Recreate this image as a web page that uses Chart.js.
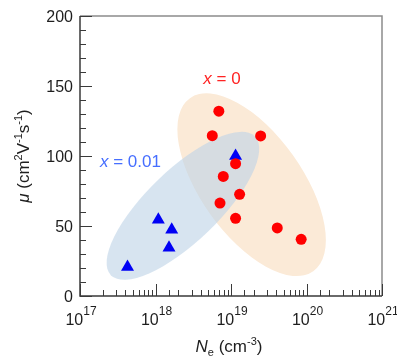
<!DOCTYPE html>
<html>
<head>
<meta charset="utf-8">
<script src="https://cdn.jsdelivr.net/npm/chart.js@4/dist/chart.umd.min.js"></script>
<style>
html,body{margin:0;padding:0;background:#fff;}
#wrap{width:397px;height:358px;position:relative;}
</style>
</head>
<body>
<div id="wrap"><canvas id="c" width="397" height="358"></canvas></div>
<script>
// ---- data ----
const xMin = 1e17, xMax = 1e21;
const yMin = 0, yMax = 200;
const yMajorTicks = [0, 50, 100, 150, 200];
const xMajorExponents = [17, 18, 19, 20, 21];

// x = 0 (red circles): Ne (cm^-3), mu (cm2/Vs)
const ne_x0 = [6.9e18, 5.65e18, 2.47e19, 1.15e19, 7.9e18, 1.3e19, 7.15e18, 1.15e19, 4.1e19, 8.5e19];
const mu_x0 = [132, 114.5, 114.3, 94.5, 85.4, 72.6, 66.4, 55.5, 48.6, 40.5];

// x = 0.01 (blue triangles)
const ne_x001 = [1.15e19, 1.09e18, 1.64e18, 1.51e18, 4.26e17];
const mu_x001 = [100, 54.5, 47.3, 34.5, 20.8];

// ellipses (major-axis end points in data units, minor/major ratio)
const ellipseX0_tips = [[2.86e18, 141.3], [1.23e20, 17.7]];
const ellipseX0_ratio = 0.478;
const ellipseX001_tips = [[2.56e17, 14.9], [2.08e19, 113.9]];
const ellipseX001_ratio = 0.36;

// series labels (data position of text start / baseline)
const labelX0 = ["x", " = 0", 4.3e18, 151.4];
const labelX001 = ["x", " = 0.01", 1.84e17, 92.4];

const FONT = '"Liberation Sans", Arial, sans-serif';
const TEXT = '#1e1e1e';

function toPts(xs, ys){ return xs.map((x,i)=>({x:x, y:ys[i]})); }

function drawRuns(ctx, runs, x, y, align){
  // runs: [{t, f, dy}]
  let w = 0;
  runs.forEach(r=>{ ctx.font = r.f; w += ctx.measureText(r.t).width; });
  let cx = align === 'center' ? x - w/2 : x;
  ctx.textAlign = 'left';
  ctx.textBaseline = 'alphabetic';
  runs.forEach(r=>{
    ctx.font = r.f;
    ctx.fillText(r.t, cx, y + (r.dy||0));
    cx += ctx.measureText(r.t).width;
  });
}

const decor = {
  id: 'decor',
  beforeDatasetsDraw(chart){
    const ctx = chart.ctx, xs = chart.scales.x, ys = chart.scales.y;
    function ell(tips, ratio, fill){
      const x1 = xs.getPixelForValue(tips[0][0]), y1 = ys.getPixelForValue(tips[0][1]);
      const x2 = xs.getPixelForValue(tips[1][0]), y2 = ys.getPixelForValue(tips[1][1]);
      const cx = (x1+x2)/2, cy = (y1+y2)/2;
      const a = Math.hypot(x2-x1, y2-y1)/2;
      const ang = Math.atan2(y2-y1, x2-x1);
      ctx.save();
      ctx.fillStyle = fill;
      ctx.beginPath();
      ctx.ellipse(cx, cy, a, a*ratio, ang, 0, Math.PI*2);
      ctx.fill();
      ctx.restore();
    }
    ell(ellipseX0_tips, ellipseX0_ratio, 'rgb(251,234,215)');
    ell(ellipseX001_tips, ellipseX001_ratio, 'rgba(190,211,231,0.62)');
  },
  afterDatasetsDraw(chart){
    const ctx = chart.ctx, xs = chart.scales.x, ys = chart.scales.y;
    const a = chart.chartArea;
    ctx.save();
    // frame top/right
    ctx.strokeStyle = '#8c8c8c';
    ctx.lineWidth = 1.5;
    ctx.beginPath();
    ctx.moveTo(a.left, a.top); ctx.lineTo(a.right, a.top); ctx.lineTo(a.right, a.bottom);
    ctx.stroke();
    // axes left/bottom
    ctx.strokeStyle = '#3a3a3a';
    ctx.beginPath();
    ctx.moveTo(a.left, a.top); ctx.lineTo(a.left, a.bottom); ctx.lineTo(a.right, a.bottom);
    ctx.stroke();
    ctx.lineWidth = 1;
    // y ticks
    ys.ticks.forEach(t=>{
      const py = Math.round(ys.getPixelForValue(t.value)) + 0.5;
      const major = yMajorTicks.includes(t.value);
      ctx.beginPath();
      ctx.moveTo(a.left, py); ctx.lineTo(a.left + (major ? 12 : 6), py);
      ctx.stroke();
    });
    // x ticks
    xs.ticks.forEach(t=>{
      const px = Math.round(xs.getPixelForValue(t.value)) + 0.5;
      const e = Math.log10(t.value);
      const major = Math.abs(e - Math.round(e)) < 1e-9;
      ctx.beginPath();
      ctx.moveTo(px, a.bottom); ctx.lineTo(px, a.bottom - (major ? 12 : 6));
      ctx.stroke();
    });
    // y labels
    ctx.fillStyle = TEXT;
    ctx.font = '16px ' + FONT;
    ctx.textAlign = 'right';
    ctx.textBaseline = 'alphabetic';
    yMajorTicks.forEach(v=>{
      ctx.fillText(String(v), a.left - 7, ys.getPixelForValue(v) + 6);
    });
    // x labels
    xMajorExponents.forEach(e=>{
      const px = xs.getPixelForValue(Math.pow(10, e));
      drawRuns(ctx, [
        {t:'10', f:'16px ' + FONT},
        {t:String(e), f:'12px ' + FONT, dy:-10}
      ], px + 1, a.bottom + 29, 'center');
    });
    // x title
    drawRuns(ctx, [
      {t:'N', f:'italic 17px ' + FONT},
      {t:'e', f:'11px ' + FONT, dy:4},
      {t:' (cm', f:'17px ' + FONT},
      {t:'-3', f:'11px ' + FONT, dy:-7},
      {t:')', f:'17px ' + FONT}
    ], (a.left + a.right)/2 - 2, 352, 'center');
    // y title
    ctx.save();
    ctx.translate(29, (a.top + a.bottom)/2);
    ctx.rotate(-Math.PI/2);
    drawRuns(ctx, [
      {t:'\u03BC', f:'italic 17px ' + FONT},
      {t:' (cm', f:'17px ' + FONT},
      {t:'2', f:'11px ' + FONT, dy:-7},
      {t:'V', f:'17px ' + FONT},
      {t:'-1', f:'11px ' + FONT, dy:-7},
      {t:'s', f:'17px ' + FONT},
      {t:'-1', f:'11px ' + FONT, dy:-7},
      {t:')', f:'17px ' + FONT}
    ], 0, 0, 'center');
    ctx.restore();
    // series labels
    ctx.fillStyle = 'rgb(255,35,35)';
    drawRuns(ctx, [
      {t:labelX0[0], f:'italic 17px ' + FONT},
      {t:labelX0[1], f:'17px ' + FONT}
    ], xs.getPixelForValue(labelX0[2]), ys.getPixelForValue(labelX0[3]), 'left');
    ctx.fillStyle = 'rgb(70,110,255)';
    drawRuns(ctx, [
      {t:labelX001[0], f:'italic 17px ' + FONT},
      {t:labelX001[1], f:'17px ' + FONT}
    ], xs.getPixelForValue(labelX001[2]), ys.getPixelForValue(labelX001[3]), 'left');
    ctx.restore();
  }
};

new Chart(document.getElementById('c'), {
  type: 'scatter',
  data: {
    datasets: [
      {
        label: 'x = 0',
        data: toPts(ne_x0, mu_x0),
        pointStyle: 'circle',
        pointRadius: 5.5,
        pointHoverRadius: 5.5,
        backgroundColor: 'rgb(255,0,0)',
        borderColor: 'rgb(255,0,0)',
        borderWidth: 0
      },
      {
        label: 'x = 0.01',
        data: toPts(ne_x001, mu_x001),
        pointStyle: 'triangle',
        pointRadius: 7.5,
        pointHoverRadius: 7.5,
        backgroundColor: 'rgb(0,0,245)',
        borderColor: 'rgb(0,0,245)',
        borderWidth: 0
      }
    ]
  },
  options: {
    responsive: false,
    animation: false,
    devicePixelRatio: 1,
    layout: { padding: { top: 16, right: 15, left: 0, bottom: 0 } },
    plugins: { legend: { display: false }, tooltip: { enabled: false } },
    events: [],
    scales: {
      x: {
        type: 'logarithmic',
        min: xMin, max: xMax,
        grid: { display: false },
        border: { display: false },
        ticks: { display: false },
        afterFit: s => { s.height = 62; }
      },
      y: {
        type: 'linear',
        min: yMin, max: yMax,
        grid: { display: false },
        border: { display: false },
        ticks: { display: false, stepSize: 10 },
        afterFit: s => { s.width = 80; }
      }
    }
  },
  plugins: [decor]
});
</script>
</body>
</html>
